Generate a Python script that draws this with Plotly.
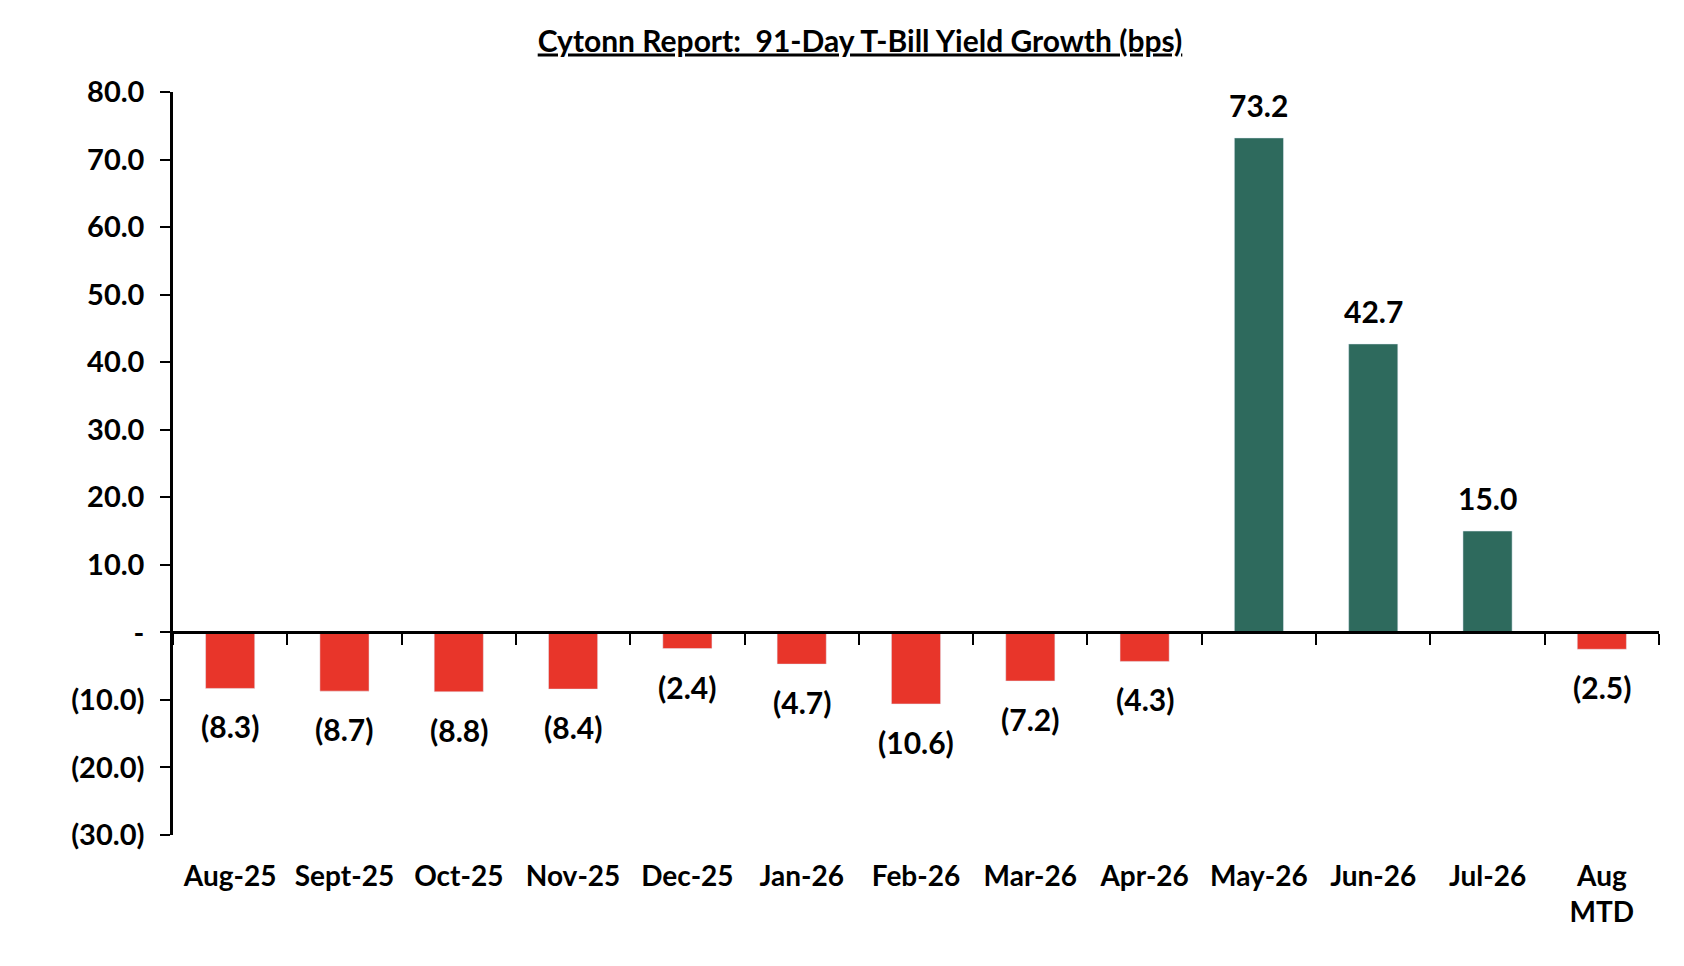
import plotly.graph_objects as go

categories = ["Aug-25", "Sept-25", "Oct-25", "Nov-25", "Dec-25", "Jan-26", "Feb-26",
              "Mar-26", "Apr-26", "May-26", "Jun-26", "Jul-26", "Aug<br>MTD"]
values = [-8.3, -8.7, -8.8, -8.4, -2.4, -4.7, -10.6, -7.2, -4.3, 73.2, 42.7, 15.0, -2.5]
ytick_vals = [-30, -20, -10, 0, 10, 20, 30, 40, 50, 60, 70, 80]
ytick_text = ["(30.0)", "(20.0)", "(10.0)", "-", "10.0", "20.0", "30.0", "40.0",
              "50.0", "60.0", "70.0", "80.0"]

RED = "#E8352A"
GREEN = "#2E6A5D"
FONT = "Lato, Open Sans, sans-serif"

def fmt(v):
    return f"({abs(v):.1f})" if v < 0 else f"{v:.1f}"

colors = [GREEN if v > 0 else RED for v in values]
ymin, ymax = -30, 80

fig = go.Figure()
fig.add_trace(go.Bar(x=categories, y=values, marker=dict(color=colors, line=dict(width=0)),
                     xaxis="x", yaxis="y", hoverinfo="skip", showlegend=False))
# invisible trace carrying the category axis line drawn at zero
fig.add_trace(go.Bar(x=categories, y=values, marker=dict(color="rgba(0,0,0,0)"),
                     xaxis="x2", yaxis="y", hoverinfo="skip", showlegend=False))

for c, v in zip(categories, values):
    fig.add_annotation(x=c, y=v, xref="x", yref="y", text=fmt(v),
                       showarrow=False, yshift=33 if v > 0 else -38,
                       font=dict(family=FONT, size=30, color="black", weight="bold"))

W, H = 1676, 958
fig.update_layout(
    width=W, height=H,
    margin=dict(l=165, r=25, t=84, b=131),
    plot_bgcolor="white", paper_bgcolor="white",
    bargap=0.57,
    title=dict(text="<u>Cytonn Report: &nbsp;91-Day T-Bill Yield Growth (bps)</u>",
               x=(860 - 8) / W, xanchor="center", y=1 - 33 / H, yanchor="middle",
               font=dict(family=FONT, size=30, color="black", weight="bold")),
    xaxis=dict(categoryorder="array", categoryarray=categories, range=[-0.5, 12.5],
               showline=False, ticks="", showgrid=False, zeroline=False,
               tickfont=dict(family=FONT, size=28, color="black", weight="bold"),
               ticklabelstandoff=22),
    xaxis2=dict(categoryorder="array", categoryarray=categories, range=[-0.5, 12.5],
                overlaying="x", anchor="free", position=(0 - ymin) / (ymax - ymin),
                showline=True, linecolor="black", linewidth=2.5,
                ticks="outside", tickson="boundaries", ticklen=11, tickwidth=2,
                tickcolor="black", showticklabels=False, showgrid=False, zeroline=False),
    yaxis=dict(range=[ymin, ymax], tickvals=ytick_vals, ticktext=ytick_text,
               showline=True, linecolor="black", linewidth=2.5, ticks="outside",
               ticklen=10, tickwidth=2, tickcolor="black", showgrid=False, zeroline=False,
               tickfont=dict(family=FONT, size=29, color="black", weight="bold"),
               ticklabelstandoff=10),
)

fig.write_html("out.html")
